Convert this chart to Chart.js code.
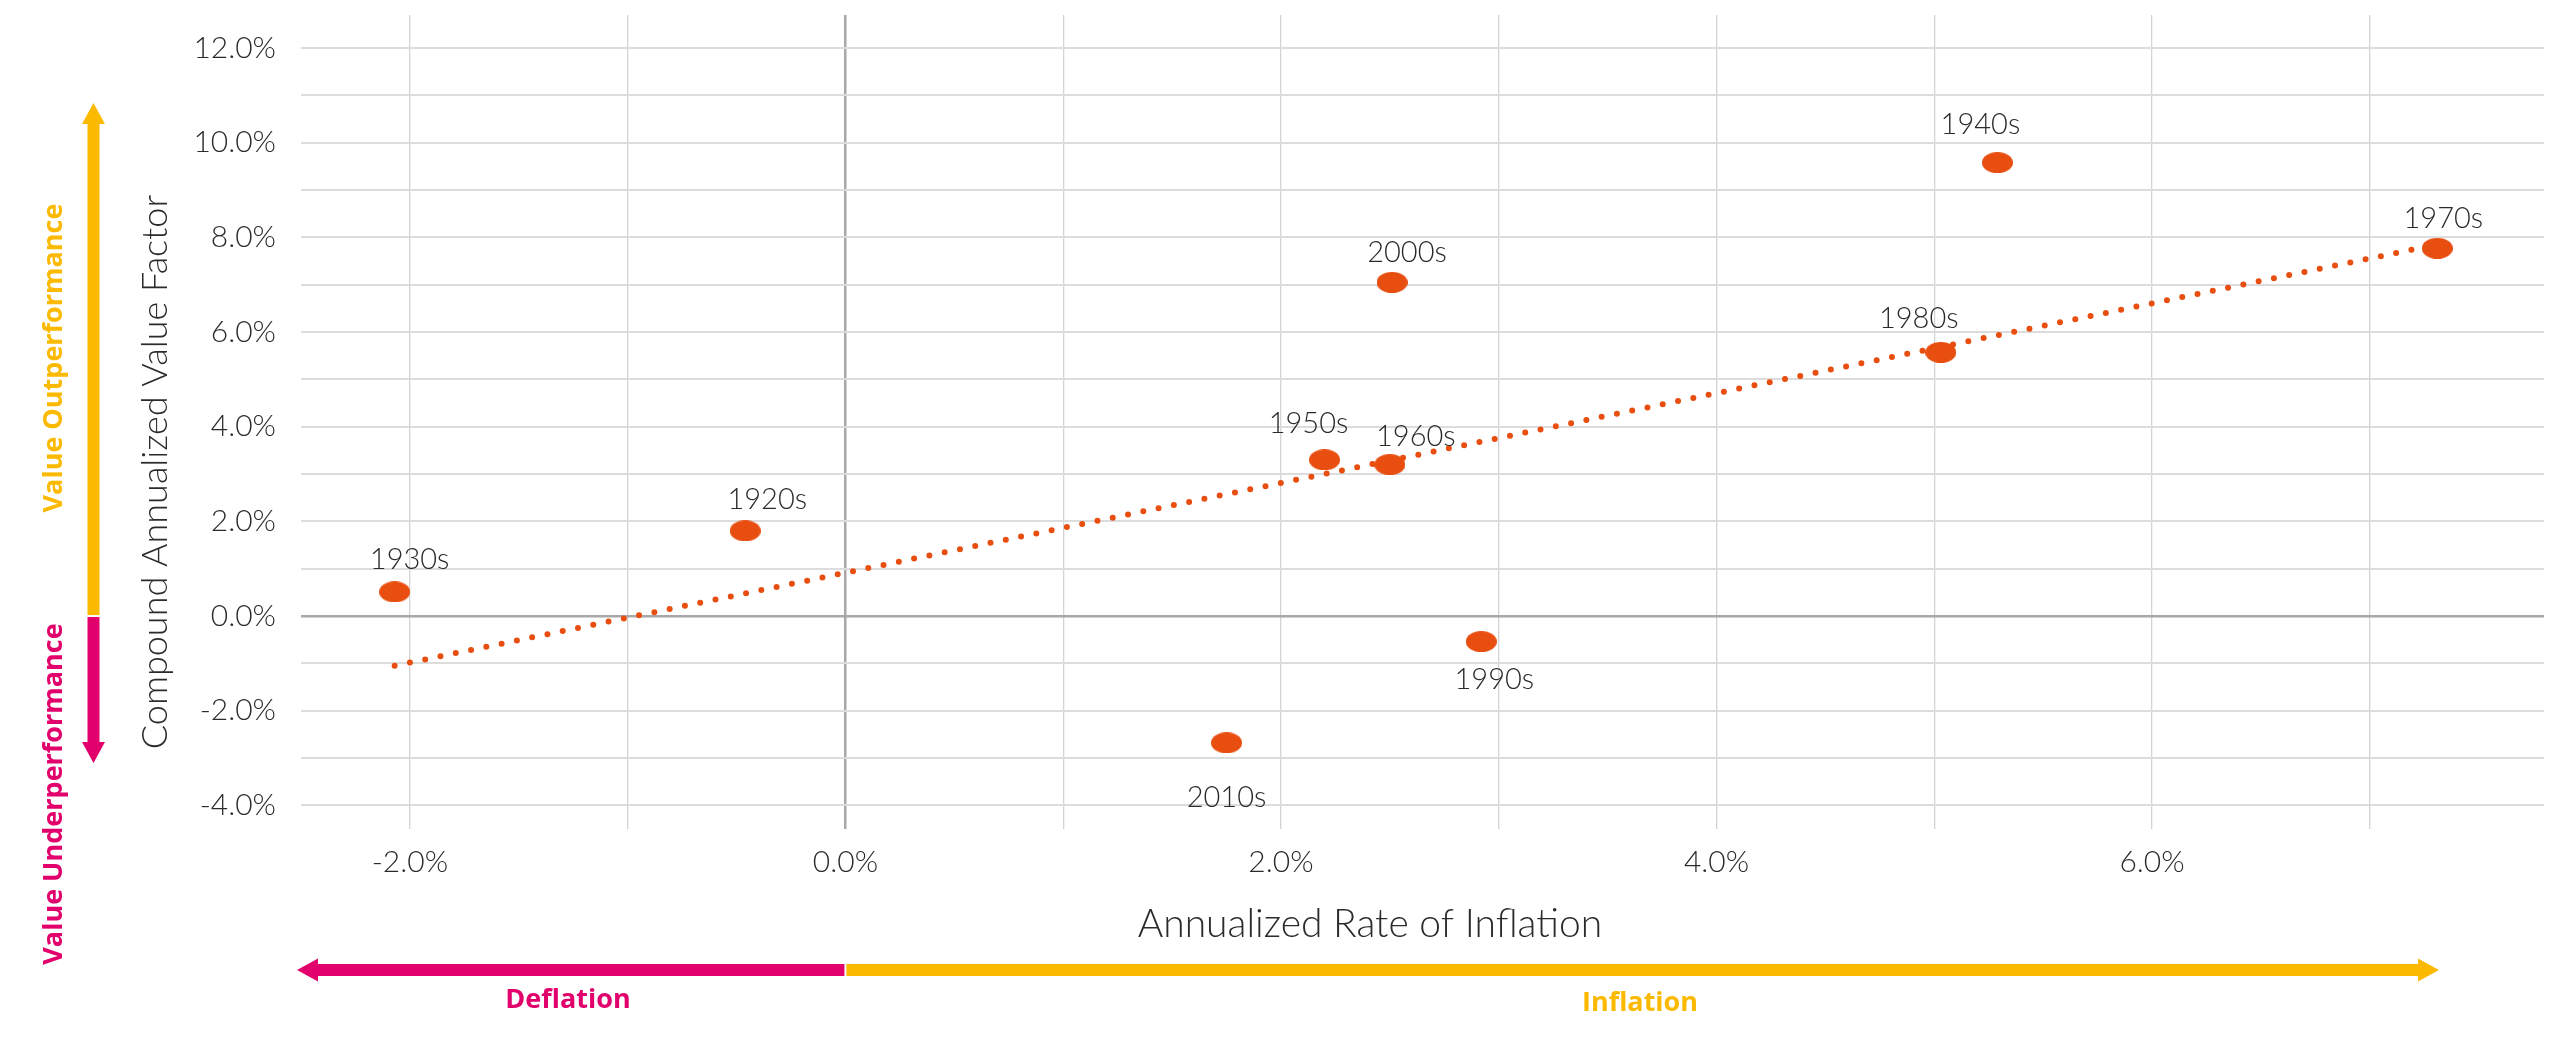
<!DOCTYPE html>
<html>
<head>
<meta charset="utf-8">
<title>Value factor vs inflation</title>
<script src="https://cdn.jsdelivr.net/npm/chart.js@4.4.1/dist/chart.umd.min.js"></script>
<style>
  html, body { margin: 0; padding: 0; background: #fff; }
  #wrap { width: 2560px; height: 1043px; }
</style>
</head>
<body>
<div id="wrap"><canvas id="chart" width="2560" height="1043"></canvas></div>
<script>
// decades and their values
var decades = ['1920s', '1930s', '1940s', '1950s', '1960s', '1970s', '1980s', '1990s', '2000s', '2010s'];
var inflation = [-0.46, -2.07, 5.29, 2.20, 2.50, 7.31, 5.03, 2.92, 2.51, 1.75];
var valueFactor = [1.80, 0.51, 9.58, 3.30, 3.20, 7.77, 5.57, -0.54, 7.05, -2.68];

// dotted trend line, end points
var trendX = [-2.07, 7.31];
var trendY = [-1.05, 7.85];

// axis ticks
var xTicks = [-2, -1, 0, 1, 2, 3, 4, 5, 6, 7];
var xTickLabels = ['-2.0%', '', '0.0%', '', '2.0%', '', '4.0%', '', '6.0%', ''];
var yTicks = [-4, -3, -2, -1, 0, 1, 2, 3, 4, 5, 6, 7, 8, 9, 10, 11, 12];
var yTickLabels = ['-4.0%', '', '-2.0%', '', '0.0%', '', '2.0%', '', '4.0%', '', '6.0%', '', '8.0%', '', '10.0%', '', '12.0%'];

// where each decade label sits, in px from its dot
var labelOffsets = [[22, -31], [15, -32], [-17, -38], [-16, -36], [26, -28], [6, -30], [-22, -34], [13, 38], [15, -30], [0, 55]];

var ORANGE = '#E84E0F';
var YELLOW = '#FBBA00';
var MAGENTA = '#E2006C';
var TEXT = '#2b2b2b';

function makeDot(w, h, color) {
  var c = document.createElement('canvas');
  c.width = w; c.height = h;
  var g = c.getContext('2d');
  g.fillStyle = color;
  g.beginPath();
  g.ellipse(w / 2, h / 2, w / 2, h / 2, 0, 0, Math.PI * 2);
  g.fill();
  return c;
}
var dot = makeDot(31, 21, ORANGE);

var points = decades.map(function (d, i) { return { x: inflation[i], y: valueFactor[i] }; });
var trend = trendX.map(function (x, i) { return { x: x, y: trendY[i] }; });

// decade labels next to the dots
var pointLabels = {
  id: 'pointLabels',
  afterDatasetsDraw: function (chart) {
    var ctx = chart.ctx;
    var meta = chart.getDatasetMeta(0);
    ctx.save();
    ctx.font = '300 29px Lato';
    ctx.fillStyle = TEXT;
    ctx.textAlign = 'center';
    ctx.textBaseline = 'middle';
    meta.data.forEach(function (el, i) {
      ctx.fillText(decades[i], el.x + labelOffsets[i][0], el.y + labelOffsets[i][1]);
    });
    ctx.restore();
  }
};

function arrowV(ctx, x, from, to, color) {
  // shaft from 'from' to 'to', head at 'to'
  var dir = to > from ? 1 : -1;
  var head = 21;
  ctx.fillStyle = color;
  ctx.fillRect(x - 6, Math.min(from, to - dir * head), 12, Math.abs(to - dir * head - from));
  ctx.beginPath();
  ctx.moveTo(x, to);
  ctx.lineTo(x - 11.5, to - dir * head);
  ctx.lineTo(x + 11.5, to - dir * head);
  ctx.closePath();
  ctx.fill();
}

function arrowH(ctx, y, from, to, color) {
  var dir = to > from ? 1 : -1;
  var head = 21;
  ctx.fillStyle = color;
  ctx.fillRect(Math.min(from, to - dir * head), y - 6, Math.abs(to - dir * head - from), 12);
  ctx.beginPath();
  ctx.moveTo(to, y);
  ctx.lineTo(to - dir * head, y - 11.5);
  ctx.lineTo(to - dir * head, y + 11.5);
  ctx.closePath();
  ctx.fill();
}

function rotText(ctx, txt, x, y) {
  ctx.save();
  ctx.translate(x, y);
  ctx.rotate(-Math.PI / 2);
  ctx.fillText(txt, 0, 0);
  ctx.restore();
}

// arrows and side texts
var decor = {
  id: 'decor',
  afterDraw: function (chart) {
    var ctx = chart.ctx;
    var xs = chart.scales.x, ys = chart.scales.y;
    var y0 = ys.getPixelForValue(0);
    var x0 = xs.getPixelForValue(0);
    ctx.save();
    arrowV(ctx, 93.5, y0 - 1, 103, YELLOW);
    arrowV(ctx, 93.5, y0 + 1, 763, MAGENTA);
    arrowH(ctx, 970, x0 - 1, 297, MAGENTA);
    arrowH(ctx, 970, x0 + 1, 2439, YELLOW);

    ctx.textAlign = 'center';
    ctx.textBaseline = 'middle';
    ctx.font = 'bold 27px "Open Sans"';
    ctx.fillStyle = YELLOW;
    rotText(ctx, 'Value Outperformance', 54, 358);
    ctx.fillText('Inflation', 1640, 1003);
    ctx.fillStyle = MAGENTA;
    rotText(ctx, 'Value Underperformance', 54, 794);
    ctx.fillText('Deflation', 568, 1000);

    ctx.fillStyle = TEXT;
    ctx.font = '300 36px Lato';
    rotText(ctx, 'Compound Annualized Value Factor', 155, 472);
    ctx.font = '300 39px Lato';
    ctx.fillText('Annualized Rate of Inflation', 1370, 924);
    ctx.restore();
  }
};

new Chart(document.getElementById('chart'), {
  type: 'scatter',
  data: {
    datasets: [{
      label: 'Decades',
      data: points,
      pointStyle: dot,
      pointRadius: 10,
      pointHoverRadius: 10
    }, {
      label: 'Trend',
      type: 'line',
      data: trend,
      showLine: true,
      borderColor: ORANGE,
      borderWidth: 6,
      borderDash: [0, 15.6],
      borderCapStyle: 'round',
      pointRadius: 0,
      fill: false
    }]
  },
  options: {
    responsive: false,
    animation: false,
    devicePixelRatio: 1,
    layout: { padding: { left: 0, right: 16, top: 15, bottom: 0 } },
    plugins: {
      legend: { display: false },
      tooltip: { enabled: false }
    },
    scales: {
      x: {
        type: 'linear',
        min: -2.5,
        max: 7.8,
        afterBuildTicks: function (scale) {
          scale.ticks = xTicks.map(function (v) { return { value: v }; });
        },
        afterFit: function (scale) {
          scale.height = 214;
          scale.paddingLeft = 0;
          scale.paddingRight = 0;
        },
        border: { display: false },
        grid: {
          drawTicks: false,
          color: function (c) { return c.tick && c.tick.value === 0 ? '#a8a8a8' : '#d4d4d4'; },
          lineWidth: function (c) { return c.tick && c.tick.value === 0 ? 2.5 : 1.3; }
        },
        ticks: {
          autoSkip: false,
          maxRotation: 0,
          padding: 15,
          color: TEXT,
          font: { family: 'Lato', weight: '300', size: 30 },
          callback: function (v, i) { return xTickLabels[i]; }
        }
      },
      y: {
        type: 'linear',
        min: -4.5,
        max: 12.7,
        afterBuildTicks: function (scale) {
          scale.ticks = yTicks.map(function (v) { return { value: v }; });
        },
        afterFit: function (scale) {
          scale.width = 301;
          scale.paddingTop = 0;
          scale.paddingBottom = 0;
        },
        border: { display: false },
        grid: {
          drawTicks: false,
          color: function (c) { return c.tick && c.tick.value === 0 ? '#a8a8a8' : '#dcdcdc'; },
          lineWidth: function (c) { return c.tick && c.tick.value === 0 ? 2.5 : 2; }
        },
        ticks: {
          autoSkip: false,
          padding: 25,
          color: TEXT,
          font: { family: 'Lato', weight: '300', size: 30 },
          callback: function (v, i) { return yTickLabels[i]; }
        }
      }
    }
  },
  plugins: [pointLabels, decor]
});
</script>
</body>
</html>
